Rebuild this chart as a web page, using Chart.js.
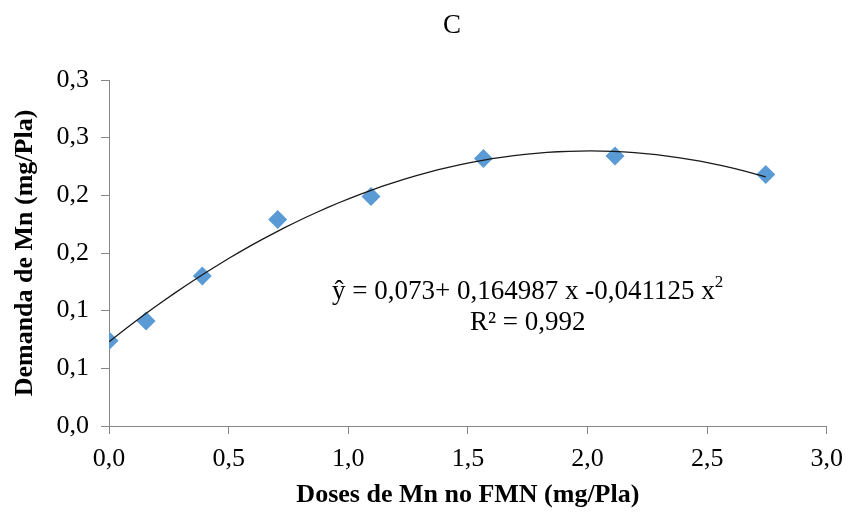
<!DOCTYPE html>
<html>
<head>
<meta charset="utf-8">
<script src="https://cdn.jsdelivr.net/npm/chart.js@4.4.0/dist/chart.umd.min.js"></script>
<style>
  html, body { margin: 0; padding: 0; background: #fff; }
  #wrap { width: 853px; height: 514px; position: relative; }
</style>
</head>
<body>
<div id="wrap"><canvas id="chart"></canvas></div>
<script>
// Mn doses vs. Mn demand, with the fitted quadratic
const doses = [0, 0.155, 0.39, 0.705, 1.095, 1.565, 2.115, 2.745]
const demand = [0.074, 0.091, 0.130, 0.179, 0.199, 0.232, 0.234, 0.218]

// fitted curve y = b0 + b1 x + b2 x^2
const fitCoef = [0.073, 0.164987, -0.041125]
const fitRange = [0, 2.745]

const xTickLabels = ['0,0', '0,5', '1,0', '1,5', '2,0', '2,5', '3,0']
const yTickLabels = ['0,0', '0,1', '0,1', '0,2', '0,2', '0,3', '0,3']

const serif = "'Liberation Serif', 'Times New Roman', serif"
const axisGrey = '#868686'

const fitPoints = []
for (let i = 0; i <= 60; i++) {
  const x = fitRange[0] + (fitRange[1] - fitRange[0]) * i / 60
  fitPoints.push({ x: x, y: fitCoef[0] + fitCoef[1] * x + fitCoef[2] * x * x })
}

// panel letter above the plot
const panelLetter = {
  id: 'panelLetter',
  afterDraw(chart) {
    const ctx = chart.ctx
    ctx.save()
    ctx.fillStyle = '#000'
    ctx.font = '27px ' + serif
    ctx.textAlign = 'center'
    ctx.textBaseline = 'middle'
    ctx.fillText('C', 452, 26)
    ctx.restore()
  }
}

// equation + R² text inside the plot
const equationLabel = {
  id: 'equationLabel',
  afterDraw(chart) {
    const ctx = chart.ctx
    const xs = chart.scales.x
    const ys = chart.scales.y
    const cx = xs.getPixelForValue(1.75)
    const main = 'ŷ = 0,073+ 0,164987 x -0,041125 x'
    ctx.save()
    ctx.fillStyle = '#000'
    ctx.textBaseline = 'middle'
    ctx.font = '27px ' + serif
    const wMain = ctx.measureText(main).width
    ctx.font = '17px ' + serif
    const wSup = ctx.measureText('2').width
    const x0 = cx - (wMain + wSup) / 2
    const y1 = ys.getPixelForValue(0.116)
    ctx.textAlign = 'left'
    ctx.font = '27px ' + serif
    ctx.fillText(main, x0, y1)
    ctx.font = '17px ' + serif
    ctx.fillText('2', x0 + wMain, y1 - 10)
    ctx.font = '27px ' + serif
    ctx.textAlign = 'center'
    ctx.fillText('R² = 0,992', cx, ys.getPixelForValue(0.0893))
    ctx.restore()
  }
}

new Chart(document.getElementById('chart'), {
  type: 'scatter',
  data: {
    datasets: [
      {
        data: fitPoints,
        showLine: true,
        borderColor: '#1a1a1a',
        borderWidth: 1.3,
        pointRadius: 0,
        fill: false,
        tension: 0,
        order: 0
      },
      {
        data: doses.map((d, i) => ({ x: d, y: demand[i] })),
        pointStyle: 'rectRot',
        pointRadius: 9.5,
        backgroundColor: '#5B9BD5',
        borderColor: '#5B9BD5',
        borderWidth: 0,
        order: 1
      }
    ]
  },
  options: {
    responsive: true,
    maintainAspectRatio: false,
    animation: false,
    layout: { padding: { left: 0, right: 22, top: 80, bottom: 0 } },
    plugins: {
      legend: { display: false },
      tooltip: { enabled: false },
      title: { display: false }
    },
    scales: {
      x: {
        type: 'linear',
        min: 0,
        max: 3,
        afterFit: (s) => { s.height = 88 },
        border: { color: axisGrey, width: 1 },
        grid: { drawOnChartArea: false, drawTicks: true, tickLength: 8, color: axisGrey },
        ticks: {
          stepSize: 0.5,
          padding: 10,
          color: '#000',
          font: { family: serif, size: 26 },
          callback: (v, i) => xTickLabels[i]
        },
        title: {
          display: true,
          text: 'Doses de Mn no FMN (mg/Pla)',
          color: '#000',
          font: { family: serif, size: 26, weight: 'bold' },
          padding: { top: 0, bottom: 3 }
        }
      },
      y: {
        type: 'linear',
        min: 0,
        max: 0.3,
        afterFit: (s) => { s.width = 109 },
        border: { color: axisGrey, width: 1 },
        grid: { drawOnChartArea: false, drawTicks: true, tickLength: 8, color: axisGrey },
        ticks: {
          stepSize: 0.05,
          padding: 12,
          color: '#000',
          font: { family: serif, size: 26 },
          callback: (v, i) => yTickLabels[i]
        },
        title: {
          display: true,
          text: 'Demanda de Mn (mg/Pla)',
          color: '#000',
          font: { family: serif, size: 26, weight: 'bold' },
          padding: { top: 10, bottom: 0 }
        }
      }
    }
  },
  plugins: [panelLetter, equationLabel]
})
</script>
</body>
</html>
